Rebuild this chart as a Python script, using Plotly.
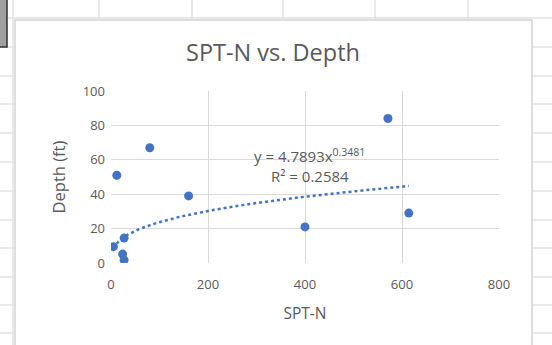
import numpy as np
import plotly.graph_objects as go

# ---- data ----
spt_n = [5, 12, 27, 24, 27, 80, 160, 400, 571, 614]
depth = [9.5, 51, 14.5, 5.2, 1.7, 67, 39, 21, 84, 29]
coef_a = 4.7893
coef_b = 0.3481
r2 = 0.2584
x_ticks = [0, 200, 400, 600, 800]
y_ticks = [0, 20, 40, 60, 80, 100]

# ---- layout geometry (pixels) ----
W, H = 552, 345
L, R, T, B = 111, 499, 91, 263
pw, ph = R - L, B - T


def px(x):
    return (x - L) / pw


def py(y):
    return (B - y) / ph


blue = "#4472c4"
txt = "#595959"
font = "Open Sans"

xs = np.linspace(min(spt_n), max(spt_n), 200)
trend = coef_a * xs ** coef_b

fig = go.Figure()
fig.add_trace(go.Scatter(x=xs, y=trend, mode="lines",
                         line=dict(color=blue, width=2.5, dash="dot"),
                         hoverinfo="skip", showlegend=False))
fig.add_trace(go.Scatter(x=spt_n, y=depth, mode="markers",
                         marker=dict(color=blue, size=9),
                         showlegend=False))

shapes = []
grid_c = "#e2e2e2"
rows = [18, 47, 76, 104, 133, 162, 191, 220, 248, 277, 305, 333]
cols = [13, 99, 192, 283, 375, 468]
for yy in rows:
    shapes.append(dict(type="line", xref="paper", yref="paper", layer="below",
                       x0=px(0), x1=px(W), y0=py(yy), y1=py(yy),
                       line=dict(color=grid_c, width=1.5)))
for xx in cols:
    shapes.append(dict(type="line", xref="paper", yref="paper", layer="below",
                       x0=px(xx), x1=px(xx), y0=py(0), y1=py(H),
                       line=dict(color=grid_c, width=1.5)))
# chart area
shapes.append(dict(type="rect", xref="paper", yref="paper", layer="below",
                   x0=px(15), x1=px(532), y0=py(20), y1=py(352),
                   fillcolor="white", line=dict(color="#d4d4d4", width=1.5)))
# dark box top-left
shapes.append(dict(type="rect", xref="paper", yref="paper", layer="below",
                   x0=px(-3), x1=px(7), y0=py(-3), y1=py(47),
                   fillcolor="#a0a0a0", line=dict(color="#303030", width=1.5)))

fig.update_layout(
    width=W, height=H,
    margin=dict(l=L, r=W - R, t=T, b=H - B),
    paper_bgcolor="white", plot_bgcolor="white",
    shapes=shapes,
    title=dict(text="SPT-N vs. Depth", x=273 / W, xanchor="center",
               y=1 - 53 / H, yanchor="middle",
               font=dict(family=font, size=23.5, color=txt)),
    xaxis=dict(range=[0, 800], tickvals=x_ticks, showgrid=True,
               gridcolor="#d9d9d9", gridwidth=1, zeroline=False,
               showline=False, ticks="", ticklabelstandoff=12,
               tickfont=dict(family=font, size=13, color=txt),
               title=dict(text="SPT-N", font=dict(family=font, size=15.5, color=txt),
                          standoff=16)),
    yaxis=dict(range=[0, 100], tickvals=y_ticks, showgrid=True,
               gridcolor="#d9d9d9", gridwidth=1, zeroline=False,
               showline=False, ticks="", ticklabelstandoff=5,
               tickfont=dict(family=font, size=13, color=txt),
               title=dict(text="Depth (ft)", font=dict(family=font, size=16.5, color=txt),
                          standoff=12)),
    annotations=[
        dict(x=410, y=62.5, xref="x", yref="y", showarrow=False,
             text=f"y = {coef_a}x<sup>{coef_b}</sup>",
             font=dict(family=font, size=15, color=txt)),
        dict(x=410, y=50.5, xref="x", yref="y", showarrow=False,
             text=f"R² = {r2}",
             font=dict(family=font, size=15, color=txt)),
    ],
)

fig.write_html("out.html")
